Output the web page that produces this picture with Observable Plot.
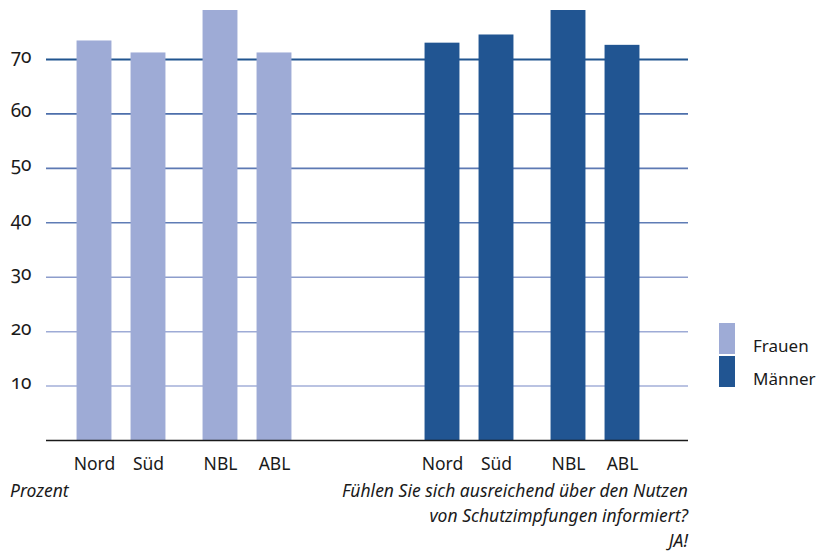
<!DOCTYPE html>
<html>
<head>
<meta charset="utf-8">
<script src="https://cdn.jsdelivr.net/npm/d3@7"></script>
<script src="https://cdn.jsdelivr.net/npm/@observablehq/plot@0.6"></script>
<style>
  html, body { margin: 0; padding: 0; background: #fff; }
  #wrap { position: relative; width: 820px; height: 551px; font-family: "Noto Sans", sans-serif; color: #1a1a1a; overflow: hidden; }
  #wrap svg { position: absolute; left: 0; top: 0; }
  .cap { position: absolute; font-style: italic; font-size: 17.5px; line-height: 25px; white-space: nowrap; }
  .sw { position: absolute; width: 16px; height: 31px; }
  .lt { position: absolute; font-size: 17px; line-height: 20px; white-space: nowrap; }
</style>
</head>
<body>
<div id="wrap"></div>
<script>
// ---- data ----
const regions = ["Nord", "Süd", "NBL", "ABL"];
const genders = ["Frauen", "Männer"];
const frauen = [73.4, 71.2, 79, 71.2];
const maenner = [73.0, 74.5, 79, 72.6];
const yTicks = [10, 20, 30, 40, 50, 60, 70];
const gridColors = ["#a3afd9", "#9eabd6", "#8d9dcc", "#5f7cb5", "#5d79b3", "#4d6fab", "#21558f"];
const gridWidths = [1.5, 1.5, 1.5, 1.6, 1.6, 1.6, 2.2];
const barColors = ["#9eabd6", "#215592"];
const captionLeft = "Prozent";
const captionRight = ["Fühlen Sie sich ausreichend über den Nutzen", "von Schutzimpfungen informiert?", "JA!"];

// spacer slots in the band domain to reproduce the uneven spacing between bars
const xDomain = ["Nord", "·1", "·2", "Süd", "·3", "·4", "·5", "NBL", "·6", "·7", "ABL"];

const data = [];
genders.forEach((g, gi) => {
  const vals = gi === 0 ? frauen : maenner;
  regions.forEach((r, i) => data.push({gender: g, region: r, value: vals[i]}));
});
const grid = yTicks.map((t, i) => ({t, color: gridColors[i], w: gridWidths[i]}));

const W = 820, H = 480;
const common = {
  width: W, height: H,
  marginLeft: 46, marginRight: 132, marginTop: 10, marginBottom: 40,
};
const yScale = {domain: [0, 79]};
const fontStyle = {fontFamily: "Noto Sans, sans-serif", fontSize: "17px", color: "#1a1a1a"};

// background: grid + y axis
const bg = Plot.plot({
  ...common,
  style: {...fontStyle, background: "white"},
  y: {...yScale},
  color: {type: "identity"},
  marks: [
    Plot.ruleY(grid, {y: "t", stroke: "color", strokeWidth: "w"}),
    Plot.axisY({ticks: yTicks, tickSize: 0, tickPadding: 15, label: null, fontSize: 19, fontVariant: "oldstyle-nums", dy: -3})
  ]
});

// middle: bars, faceted by gender
const fg = Plot.plot({
  ...common,
  style: {...fontStyle, background: "transparent"},
  fx: {domain: genders, paddingInner: 54 / 348, paddingOuter: 0, axis: null, label: null},
  x: {domain: xDomain, paddingInner: 0, paddingOuter: 2.62, align: 0.405, label: null},
  y: {...yScale, axis: null},
  color: {domain: genders, range: barColors},
  marks: [
    Plot.barY(data, {fx: "gender", x: "region", y: "value", fill: "gender", insetLeft: -8.45, insetRight: -8.45}),
    Plot.axisX({ticks: regions, tickSize: 0, tickPadding: 17, label: null, fontSize: 17.5})
  ]
});

// top: baseline across the full frame
const base = Plot.plot({
  ...common,
  style: {...fontStyle, background: "transparent"},
  y: {...yScale, axis: null},
  marks: [
    Plot.ruleY([0], {stroke: "#1a1a1a", strokeWidth: 1.6})
  ]
});

const wrap = document.getElementById("wrap");
wrap.appendChild(bg);
wrap.appendChild(fg);
wrap.appendChild(base);

// captions
const cl = document.createElement("div");
cl.className = "cap";
cl.style.left = "10px"; cl.style.top = "478px";
cl.textContent = captionLeft;
wrap.appendChild(cl);

const cr = document.createElement("div");
cr.className = "cap";
cr.style.right = (820 - 688) + "px"; cr.style.top = "478px"; cr.style.textAlign = "right";
cr.innerHTML = captionRight.map(s => `<div>${s}</div>`).join("");
wrap.appendChild(cr);

// legend
genders.forEach((g, i) => {
  const sw = document.createElement("div");
  sw.className = "sw";
  sw.style.left = "719px";
  sw.style.top = (323 + i * 33) + "px";
  sw.style.background = barColors[i];
  wrap.appendChild(sw);
  const lt = document.createElement("div");
  lt.className = "lt";
  lt.style.left = "753px";
  lt.style.top = (336 + i * 33) + "px";
  lt.textContent = g;
  wrap.appendChild(lt);
});
</script>
</body>
</html>
